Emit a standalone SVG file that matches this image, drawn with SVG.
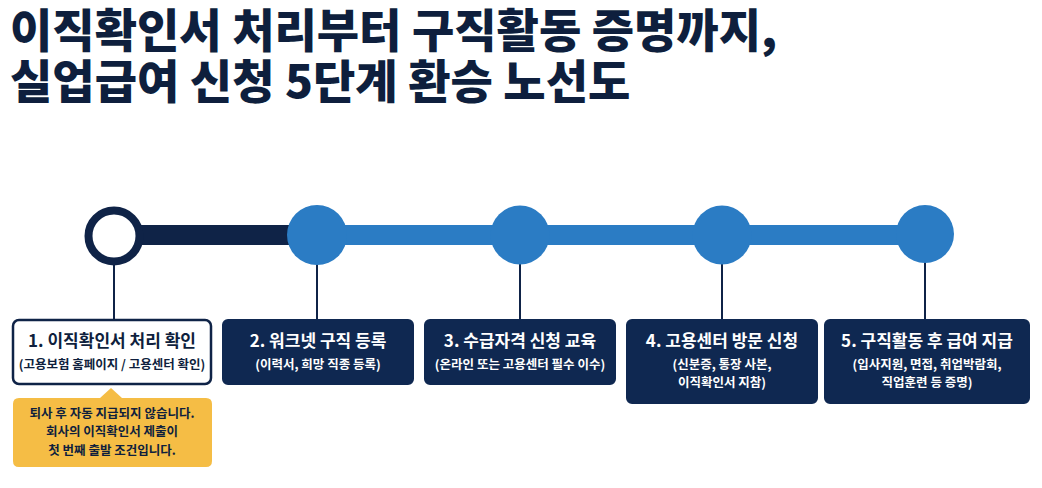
<svg xmlns="http://www.w3.org/2000/svg" width="1042" height="488" viewBox="0 0 1042 488">
<defs>
<style>
.t{font-family:"Noto Sans CJK KR","Noto Sans",sans-serif;}
.title{font-size:46px;font-weight:900;fill:#0e1f3d;}
.bx{fill:#0f2851;stroke:#0f2851;stroke-width:2;}
.bxw{fill:#ffffff;stroke:#0f2347;stroke-width:2.5;}
.h{font-size:17px;font-weight:700;text-anchor:middle;}
.s{font-size:12.5px;font-weight:700;text-anchor:middle;}
.w{fill:#ffffff;}
.d{fill:#0f1f3d;}
.stem{stroke:#0f2347;stroke-width:2;}
.st{fill:#2b7cc4;}
</style>
</defs>
<rect width="1042" height="488" fill="#ffffff"/>
<g id="title" class="t title">
<text x="10" y="47">이직확인서 처리부터 구직활동 증명까지,</text>
<text x="10" y="98">실업급여 신청 5단계 환승 노선도</text>
</g>
<g id="connectors">
<line x1="317" y1="235" x2="925" y2="235" stroke="#2b7cc4" stroke-width="20"/>
<line x1="114" y1="235" x2="317" y2="235" stroke="#0f2347" stroke-width="20"/>
<line class="stem" x1="114" y1="262" x2="114" y2="320"/>
<line class="stem" x1="317" y1="262" x2="317" y2="320"/>
<line class="stem" x1="520" y1="262" x2="520" y2="320"/>
<line class="stem" x1="722" y1="262" x2="722" y2="320"/>
<line class="stem" x1="925" y1="262" x2="925" y2="320"/>
</g>
<g id="stop1"><circle cx="114" cy="236" r="25.5" fill="#ffffff" stroke="#0f2347" stroke-width="8"/></g>
<g id="stop2"><circle class="st" cx="317" cy="235" r="30"/></g>
<g id="stop3"><circle class="st" cx="520" cy="235" r="29.5"/></g>
<g id="stop4"><circle class="st" cx="722" cy="235" r="29.5"/></g>
<g id="stop5"><circle class="st" cx="925" cy="234" r="29"/></g>
<g id="step1">
<rect class="bxw" x="13" y="320" width="198" height="64" rx="6"/>
<text class="t h d" x="112" y="347">1. 이직확인서 처리 확인</text>
<text class="t s d" x="112" y="369">(고용보험 홈페이지 / 고용센터 확인)</text>
</g>
<g id="step2">
<rect class="bx" x="223" y="320" width="190" height="64" rx="5"/>
<text class="t h w" x="318" y="347">2. 워크넷 구직 등록</text>
<text class="t s w" x="318" y="369">(이력서, 희망 직종 등록)</text>
</g>
<g id="step3">
<rect class="bx" x="425" y="320" width="190" height="64" rx="5"/>
<text class="t h w" x="520" y="347">3. 수급자격 신청 교육</text>
<text class="t s w" x="520" y="369">(온라인 또는 고용센터 필수 이수)</text>
</g>
<g id="step4">
<rect class="bx" x="627" y="320" width="190" height="83" rx="5"/>
<text class="t h w" x="722" y="347">4. 고용센터 방문 신청</text>
<text class="t s w" x="722" y="369">(신분증, 통장 사본,</text>
<text class="t s w" x="722" y="387">이직확인서 지참)</text>
</g>
<g id="step5">
<rect class="bx" x="825" y="320" width="204" height="83" rx="5"/>
<text class="t h w" x="927" y="347">5. 구직활동 후 급여 지급</text>
<text class="t s w" x="927" y="369">(입사지원, 면접, 취업박람회,</text>
<text class="t s w" x="927" y="387">직업훈련 등 증명)</text>
</g>
<g id="note">
<path d="M19 398 L100 398 L111 388 L122 398 L206 398 Q212 398 212 404 L212 461 Q212 467 206 467 L19 467 Q13 467 13 461 L13 404 Q13 398 19 398 Z" fill="#f5bd45"/>
<text class="t s d" x="112" y="418">퇴사 후 자동 지급되지 않습니다.</text>
<text class="t s d" x="112" y="436">회사의 이직확인서 제출이</text>
<text class="t s d" x="112" y="455">첫 번째 출발 조건입니다.</text>
</g>
</svg>
